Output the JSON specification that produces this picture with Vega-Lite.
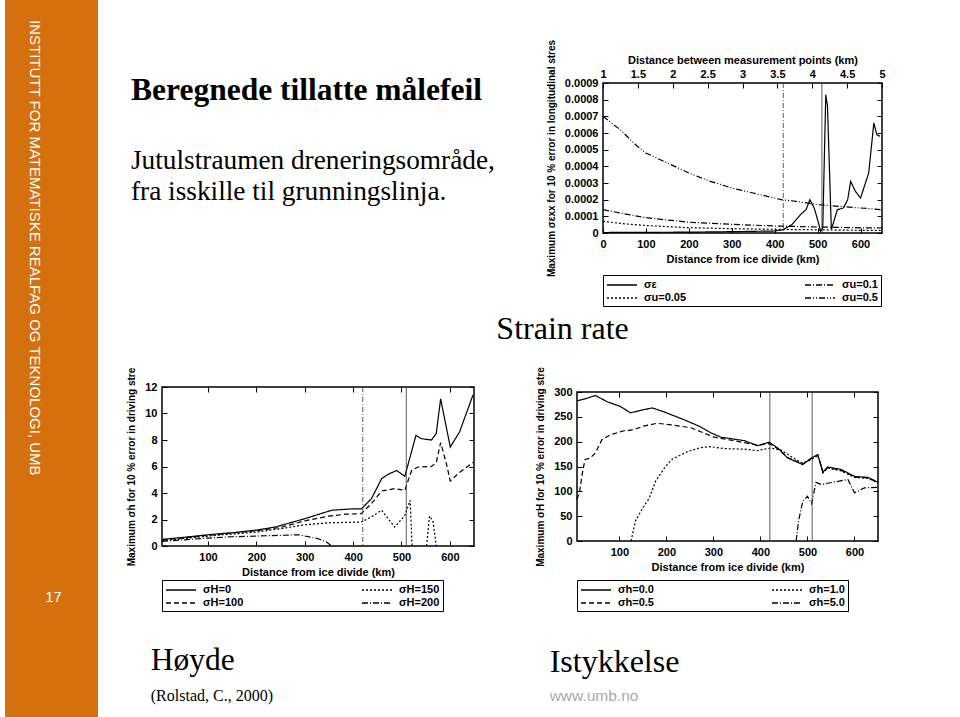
{
  "$schema": "https://vega.github.io/schema/vega-lite/v6.json",
  "background": "white",
  "padding": {"left": 5, "top": 0, "right": 0, "bottom": 0},
  "config": {
    "font": "Liberation Sans",
    "view": {"stroke": null},
    "axis": {
      "grid": false, "domain": false, "tickColor": "black", "tickSize": -5, "tickWidth": 1,
      "labelFont": "Liberation Sans", "labelFontWeight": "bold", "labelFontSize": 11, "labelColor": "black",
      "labelPadding": 10, "labelFlush": false, "labelOverlap": false,
      "titleFont": "Liberation Sans", "titleFontWeight": "bold", "titleFontSize": 11, "titleColor": "black"
    },
    "legend": {
      "orient": "bottom", "direction": "horizontal", "columns": 2, "strokeColor": "black", "padding": 3,
      "symbolType": "M-1,0H4", "symbolSize": 144, "symbolStrokeWidth": 1.3, "symbolStrokeColor": "black",
      "labelFont": "Liberation Sans", "labelFontWeight": "bold", "labelFontSize": 11, "labelColor": "black",
      "labelOffset": 24, "columnPadding": 115, "rowPadding": 1, "offset": 3
    }
  },
  "datasets": {
    "markers": [{"km": 420}, {"km": 510}],
    "strain": [
      {"km": 0, "v": 0.000003, "s": "σε"}, {"km": 100, "v": 0.000004, "s": "σε"}, {"km": 200, "v": 0.000005, "s": "σε"},
      {"km": 300, "v": 0.000008, "s": "σε"}, {"km": 400, "v": 0.000012, "s": "σε"}, {"km": 420, "v": 0.00002, "s": "σε"},
      {"km": 440, "v": 0.00005, "s": "σε"}, {"km": 460, "v": 0.00011, "s": "σε"}, {"km": 473, "v": 0.00014, "s": "σε"},
      {"km": 482, "v": 0.0002, "s": "σε"}, {"km": 492, "v": 0.00015, "s": "σε"}, {"km": 500, "v": 0.00008, "s": "σε"},
      {"km": 507, "v": 0.00001, "s": "σε"}, {"km": 512, "v": 0.00003, "s": "σε"}, {"km": 519, "v": 0.00083, "s": "σε"},
      {"km": 523, "v": 0.00076, "s": "σε"}, {"km": 532, "v": 0.00002, "s": "σε"}, {"km": 546, "v": 0.00014, "s": "σε"},
      {"km": 560, "v": 0.00015, "s": "σε"}, {"km": 570, "v": 0.0002, "s": "σε"}, {"km": 577, "v": 0.00031, "s": "σε"},
      {"km": 588, "v": 0.00025, "s": "σε"}, {"km": 600, "v": 0.00021, "s": "σε"}, {"km": 619, "v": 0.00036, "s": "σε"},
      {"km": 631, "v": 0.00066, "s": "σε"}, {"km": 638, "v": 0.00059, "s": "σε"}, {"km": 645, "v": 0.00058, "s": "σε"},
      {"km": 0, "v": 0.00007, "s": "σu=0.05"}, {"km": 50, "v": 0.000055, "s": "σu=0.05"}, {"km": 100, "v": 0.000045, "s": "σu=0.05"},
      {"km": 150, "v": 0.000038, "s": "σu=0.05"}, {"km": 200, "v": 0.000032, "s": "σu=0.05"}, {"km": 300, "v": 0.000026, "s": "σu=0.05"},
      {"km": 400, "v": 0.000022, "s": "σu=0.05"}, {"km": 500, "v": 0.000019, "s": "σu=0.05"}, {"km": 600, "v": 0.000016, "s": "σu=0.05"},
      {"km": 650, "v": 0.000015, "s": "σu=0.05"},
      {"km": 0, "v": 0.00014, "s": "σu=0.1"}, {"km": 50, "v": 0.000115, "s": "σu=0.1"}, {"km": 100, "v": 0.000092, "s": "σu=0.1"},
      {"km": 150, "v": 0.000078, "s": "σu=0.1"}, {"km": 200, "v": 0.000065, "s": "σu=0.1"}, {"km": 300, "v": 0.000052, "s": "σu=0.1"},
      {"km": 400, "v": 0.000042, "s": "σu=0.1"}, {"km": 500, "v": 0.000036, "s": "σu=0.1"}, {"km": 600, "v": 0.000031, "s": "σu=0.1"},
      {"km": 650, "v": 0.00003, "s": "σu=0.1"},
      {"km": 0, "v": 0.0007, "s": "σu=0.5"}, {"km": 40, "v": 0.00062, "s": "σu=0.5"}, {"km": 80, "v": 0.00052, "s": "σu=0.5"},
      {"km": 100, "v": 0.00048, "s": "σu=0.5"}, {"km": 150, "v": 0.00042, "s": "σu=0.5"}, {"km": 200, "v": 0.00036, "s": "σu=0.5"},
      {"km": 250, "v": 0.00031, "s": "σu=0.5"}, {"km": 300, "v": 0.00027, "s": "σu=0.5"}, {"km": 350, "v": 0.00024, "s": "σu=0.5"},
      {"km": 415, "v": 0.0002, "s": "σu=0.5"}, {"km": 450, "v": 0.00019, "s": "σu=0.5"}, {"km": 500, "v": 0.00017, "s": "σu=0.5"},
      {"km": 550, "v": 0.00016, "s": "σu=0.5"}, {"km": 600, "v": 0.00015, "s": "σu=0.5"}, {"km": 650, "v": 0.00014, "s": "σu=0.5"}
    ],
    "hoyde": [
      {"km": 5, "v": 0.5, "s": "σH=0"}, {"km": 50, "v": 0.65, "s": "σH=0"}, {"km": 100, "v": 0.85, "s": "σH=0"},
      {"km": 150, "v": 1.0, "s": "σH=0"}, {"km": 200, "v": 1.2, "s": "σH=0"}, {"km": 239, "v": 1.43, "s": "σH=0"},
      {"km": 300, "v": 2.06, "s": "σH=0"}, {"km": 356, "v": 2.7, "s": "σH=0"}, {"km": 397, "v": 2.8, "s": "σH=0"},
      {"km": 417, "v": 2.8, "s": "σH=0"}, {"km": 438, "v": 3.57, "s": "σH=0"}, {"km": 459, "v": 5.08, "s": "σH=0"},
      {"km": 472, "v": 5.4, "s": "σH=0"}, {"km": 490, "v": 5.7, "s": "σH=0"}, {"km": 507, "v": 5.26, "s": "σH=0"},
      {"km": 514, "v": 6.2, "s": "σH=0"}, {"km": 530, "v": 8.35, "s": "σH=0"}, {"km": 541, "v": 8.1, "s": "σH=0"},
      {"km": 562, "v": 8.0, "s": "σH=0"}, {"km": 572, "v": 8.5, "s": "σH=0"}, {"km": 581, "v": 11.1, "s": "σH=0"},
      {"km": 601, "v": 7.47, "s": "σH=0"}, {"km": 620, "v": 8.6, "s": "σH=0"}, {"km": 648, "v": 11.4, "s": "σH=0"},
      {"km": 5, "v": 0.45, "s": "σH=100"}, {"km": 100, "v": 0.8, "s": "σH=100"}, {"km": 200, "v": 1.15, "s": "σH=100"},
      {"km": 250, "v": 1.4, "s": "σH=100"}, {"km": 300, "v": 1.9, "s": "σH=100"}, {"km": 350, "v": 2.25, "s": "σH=100"},
      {"km": 385, "v": 2.4, "s": "σH=100"}, {"km": 417, "v": 2.44, "s": "σH=100"}, {"km": 438, "v": 3.2, "s": "σH=100"},
      {"km": 459, "v": 4.15, "s": "σH=100"}, {"km": 486, "v": 4.33, "s": "σH=100"}, {"km": 507, "v": 4.2, "s": "σH=100"},
      {"km": 521, "v": 5.7, "s": "σH=100"}, {"km": 534, "v": 5.96, "s": "σH=100"}, {"km": 562, "v": 6.0, "s": "σH=100"},
      {"km": 572, "v": 6.3, "s": "σH=100"}, {"km": 581, "v": 7.8, "s": "σH=100"}, {"km": 593, "v": 6.2, "s": "σH=100"},
      {"km": 601, "v": 4.9, "s": "σH=100"}, {"km": 617, "v": 5.46, "s": "σH=100"}, {"km": 648, "v": 6.3, "s": "σH=100"},
      {"km": 5, "v": 0.4, "s": "σH=150", "g": 1}, {"km": 100, "v": 0.75, "s": "σH=150", "g": 1}, {"km": 200, "v": 1.05, "s": "σH=150", "g": 1},
      {"km": 250, "v": 1.3, "s": "σH=150", "g": 1}, {"km": 300, "v": 1.6, "s": "σH=150", "g": 1}, {"km": 350, "v": 1.75, "s": "σH=150", "g": 1},
      {"km": 417, "v": 1.81, "s": "σH=150", "g": 1}, {"km": 438, "v": 2.2, "s": "σH=150", "g": 1}, {"km": 459, "v": 2.7, "s": "σH=150", "g": 1},
      {"km": 486, "v": 1.43, "s": "σH=150", "g": 1}, {"km": 507, "v": 2.3, "s": "σH=150", "g": 1}, {"km": 518, "v": 3.45, "s": "σH=150", "g": 1},
      {"km": 522, "v": 0, "s": "σH=150", "g": 1},
      {"km": 552, "v": 0, "s": "σH=150", "g": 2}, {"km": 558, "v": 2.26, "s": "σH=150", "g": 2}, {"km": 565, "v": 1.9, "s": "σH=150", "g": 2},
      {"km": 572, "v": 0, "s": "σH=150", "g": 2},
      {"km": 5, "v": 0.35, "s": "σH=200"}, {"km": 100, "v": 0.6, "s": "σH=200"}, {"km": 150, "v": 0.7, "s": "σH=200"},
      {"km": 200, "v": 0.75, "s": "σH=200"}, {"km": 245, "v": 0.8, "s": "σH=200"}, {"km": 287, "v": 0.85, "s": "σH=200"},
      {"km": 328, "v": 0.55, "s": "σH=200"}, {"km": 345, "v": 0.3, "s": "σH=200"}, {"km": 356, "v": 0, "s": "σH=200"}
    ],
    "istykkelse": [
      {"km": 10, "v": 282, "s": "σh=0.0"}, {"km": 30, "v": 287, "s": "σh=0.0"}, {"km": 49, "v": 293, "s": "σh=0.0"},
      {"km": 75, "v": 280, "s": "σh=0.0"}, {"km": 102, "v": 271, "s": "σh=0.0"}, {"km": 124, "v": 258, "s": "σh=0.0"},
      {"km": 145, "v": 263, "s": "σh=0.0"}, {"km": 170, "v": 268, "s": "σh=0.0"}, {"km": 195, "v": 260, "s": "σh=0.0"},
      {"km": 238, "v": 244, "s": "σh=0.0"}, {"km": 270, "v": 231, "s": "σh=0.0"}, {"km": 294, "v": 218, "s": "σh=0.0"},
      {"km": 316, "v": 209, "s": "σh=0.0"}, {"km": 366, "v": 202, "s": "σh=0.0"}, {"km": 394, "v": 192, "s": "σh=0.0"},
      {"km": 419, "v": 199, "s": "σh=0.0"}, {"km": 437, "v": 187, "s": "σh=0.0"}, {"km": 458, "v": 167, "s": "σh=0.0"},
      {"km": 490, "v": 154, "s": "σh=0.0"}, {"km": 508, "v": 167, "s": "σh=0.0"}, {"km": 522, "v": 174, "s": "σh=0.0"},
      {"km": 533, "v": 139, "s": "σh=0.0"}, {"km": 543, "v": 149, "s": "σh=0.0"}, {"km": 572, "v": 144, "s": "σh=0.0"},
      {"km": 600, "v": 130, "s": "σh=0.0"}, {"km": 629, "v": 128, "s": "σh=0.0"}, {"km": 650, "v": 118, "s": "σh=0.0"},
      {"km": 10, "v": 84, "s": "σh=0.5"}, {"km": 15, "v": 97, "s": "σh=0.5"}, {"km": 22, "v": 140, "s": "σh=0.5"},
      {"km": 27, "v": 164, "s": "σh=0.5"}, {"km": 38, "v": 167, "s": "σh=0.5"}, {"km": 49, "v": 177, "s": "σh=0.5"},
      {"km": 63, "v": 204, "s": "σh=0.5"}, {"km": 81, "v": 214, "s": "σh=0.5"}, {"km": 110, "v": 222, "s": "σh=0.5"},
      {"km": 131, "v": 224, "s": "σh=0.5"}, {"km": 150, "v": 231, "s": "σh=0.5"}, {"km": 180, "v": 237, "s": "σh=0.5"},
      {"km": 210, "v": 234, "s": "σh=0.5"}, {"km": 252, "v": 228, "s": "σh=0.5"}, {"km": 273, "v": 220, "s": "σh=0.5"},
      {"km": 302, "v": 209, "s": "σh=0.5"}, {"km": 337, "v": 203, "s": "σh=0.5"}, {"km": 366, "v": 198, "s": "σh=0.5"},
      {"km": 394, "v": 193, "s": "σh=0.5"}, {"km": 419, "v": 196, "s": "σh=0.5"}, {"km": 437, "v": 186, "s": "σh=0.5"},
      {"km": 458, "v": 168, "s": "σh=0.5"}, {"km": 490, "v": 155, "s": "σh=0.5"}, {"km": 508, "v": 166, "s": "σh=0.5"},
      {"km": 522, "v": 173, "s": "σh=0.5"}, {"km": 533, "v": 138, "s": "σh=0.5"}, {"km": 543, "v": 148, "s": "σh=0.5"},
      {"km": 572, "v": 142, "s": "σh=0.5"}, {"km": 600, "v": 129, "s": "σh=0.5"}, {"km": 629, "v": 127, "s": "σh=0.5"},
      {"km": 650, "v": 118, "s": "σh=0.5"},
      {"km": 125, "v": 0, "s": "σh=1.0"}, {"km": 134, "v": 40, "s": "σh=1.0"}, {"km": 152, "v": 70, "s": "σh=1.0"},
      {"km": 163, "v": 85, "s": "σh=1.0"}, {"km": 177, "v": 120, "s": "σh=1.0"}, {"km": 198, "v": 150, "s": "σh=1.0"},
      {"km": 213, "v": 165, "s": "σh=1.0"}, {"km": 245, "v": 180, "s": "σh=1.0"}, {"km": 273, "v": 188, "s": "σh=1.0"},
      {"km": 294, "v": 190, "s": "σh=1.0"}, {"km": 322, "v": 186, "s": "σh=1.0"}, {"km": 366, "v": 185, "s": "σh=1.0"},
      {"km": 394, "v": 182, "s": "σh=1.0"}, {"km": 408, "v": 185, "s": "σh=1.0"}, {"km": 422, "v": 187, "s": "σh=1.0"},
      {"km": 444, "v": 183, "s": "σh=1.0"}, {"km": 465, "v": 170, "s": "σh=1.0"}, {"km": 486, "v": 158, "s": "σh=1.0"},
      {"km": 500, "v": 160, "s": "σh=1.0"}, {"km": 510, "v": 165, "s": "σh=1.0"}, {"km": 522, "v": 172, "s": "σh=1.0"},
      {"km": 533, "v": 137, "s": "σh=1.0"}, {"km": 543, "v": 147, "s": "σh=1.0"}, {"km": 572, "v": 141, "s": "σh=1.0"},
      {"km": 600, "v": 128, "s": "σh=1.0"}, {"km": 629, "v": 126, "s": "σh=1.0"}, {"km": 650, "v": 117, "s": "σh=1.0"},
      {"km": 476, "v": 0, "s": "σh=5.0"}, {"km": 481, "v": 40, "s": "σh=5.0"}, {"km": 490, "v": 80, "s": "σh=5.0"},
      {"km": 500, "v": 90, "s": "σh=5.0"}, {"km": 509, "v": 75, "s": "σh=5.0"}, {"km": 518, "v": 118, "s": "σh=5.0"},
      {"km": 529, "v": 114, "s": "σh=5.0"}, {"km": 565, "v": 120, "s": "σh=5.0"}, {"km": 586, "v": 124, "s": "σh=5.0"},
      {"km": 600, "v": 97, "s": "σh=5.0"}, {"km": 621, "v": 107, "s": "σh=5.0"}, {"km": 650, "v": 108, "s": "σh=5.0"}
    ]
  },
  "resolve": {"scale": {"strokeDash": "independent"}, "legend": {"strokeDash": "independent"}},
  "hconcat": [
    {
      "spacing": 0,
      "vconcat": [
        {
          "width": 93, "height": 575,
          "view": {"fill": "#D5700F", "stroke": null},
          "data": {"values": []},
          "mark": "point",
          "title": {"text": "INSTITUTT FOR MATEMATISKE REALFAG OG TEKNOLOGI, UMB", "orient": "right", "anchor": "start", "offset": -71, "dx": 20, "color": "white", "font": "Liberation Sans", "fontSize": 15, "fontWeight": "normal"}
        },
        {
          "width": 93, "height": 142,
          "view": {"fill": "#D5700F", "stroke": null},
          "data": {"values": []},
          "mark": "point",
          "title": {"text": "17", "orient": "top", "anchor": "middle", "offset": -30, "dx": 2, "color": "white", "font": "Liberation Sans", "fontSize": 15, "fontWeight": "normal"}
        }
      ]
    },
    {
      "spacing": 19,
      "resolve": {"scale": {"strokeDash": "independent"}, "legend": {"strokeDash": "independent"}},
      "vconcat": [
        {
          "spacing": 0,
          "center": true,
          "bounds": "flush",
          "resolve": {"scale": {"strokeDash": "independent"}, "legend": {"strokeDash": "independent"}},
          "hconcat": [
            {
              "width": 441, "height": 316,
              "view": {"stroke": null},
              "data": {"values": []},
              "mark": "point",
              "title": {
                "text": "Beregnede tillatte målefeil",
                "subtitle": ["Jutulstraumen dreneringsområde,", "fra isskille til grunningslinja."],
                "orient": "top", "anchor": "start", "offset": -205, "dx": -31,
                "font": "Liberation Serif", "fontSize": 31.5, "fontWeight": "bold", "color": "black",
                "subtitleFont": "Liberation Serif", "subtitleFontSize": 27.3, "subtitleColor": "black",
                "subtitlePadding": 40, "subtitleLineHeight": 31
              }
            },
            {
              "width": 279, "height": 150,
              "view": {"stroke": "black", "strokeWidth": 1.5},
              "title": {"text": "Strain rate", "orient": "bottom", "anchor": "start", "dx": -50, "offset": 7, "font": "Liberation Serif", "fontSize": 32, "fontWeight": "normal", "color": "black"},
              "resolve": {"scale": {"x": "independent"}, "axis": {"y": "independent"}},
              "layer": [
                {
                  "data": {"name": "strain"},
                  "mark": {"type": "line", "color": "black", "strokeWidth": 1.2},
                  "encoding": {
                    "x": {"field": "km", "type": "quantitative", "scale": {"domain": [0, 650], "nice": false},
                          "axis": {"values": [0, 100, 200, 300, 400, 500, 600], "title": "Distance from ice divide (km)", "titlePadding": 4}},
                    "y": {"field": "v", "type": "quantitative", "scale": {"domain": [0, 0.0009], "nice": false},
                          "axis": {"values": [0, 0.0001, 0.0002, 0.0003, 0.0004, 0.0005, 0.0006, 0.0007, 0.0008, 0.0009], "format": ".4~f",
                                   "title": "Maximum σεxx for 10 % error in longitudinal stres", "titleFontSize": 10, "titlePadding": 8}},
                    "strokeDash": {"field": "s", "type": "nominal",
                                   "scale": {"domain": ["σε", "σu=0.1", "σu=0.05", "σu=0.5"], "range": [[1, 0], [6, 2, 1, 2], [2, 2], [6, 2, 1, 2, 1, 2]]},
                                   "legend": {"title": null, "offset": 11}}
                  }
                },
                {
                  "data": {"name": "markers"},
                  "mark": {"type": "rule", "color": "#333", "strokeWidth": 0.8},
                  "encoding": {
                    "x": {"field": "km", "type": "quantitative", "scale": {"domain": [0, 650], "nice": false}, "axis": null},
                    "strokeDash": {"condition": {"test": "datum.km < 450", "value": [5, 2, 1, 2]}, "value": [1, 0]}
                  }
                },
                {
                  "data": {"values": [{"d": 1}, {"d": 5}]},
                  "mark": {"type": "point", "opacity": 0},
                  "encoding": {
                    "x": {"field": "d", "type": "quantitative", "scale": {"domain": [1, 5], "nice": false},
                          "axis": {"orient": "top", "values": [1, 1.5, 2, 2.5, 3, 3.5, 4, 4.5, 5], "format": "~g",
                                   "title": "Distance between measurement points (km)", "titlePadding": 3, "labelPadding": 9}}
                  }
                },
                {
                  "data": {"name": "strain"},
                  "mark": {"type": "point", "opacity": 0},
                  "encoding": {
                    "x": {"field": "km", "type": "quantitative", "scale": {"domain": [0, 650], "nice": false}, "axis": null},
                    "y": {"field": "v", "type": "quantitative",
                          "axis": {"orient": "right", "values": [0, 0.0001, 0.0002, 0.0003, 0.0004, 0.0005, 0.0006, 0.0007, 0.0008, 0.0009], "labels": false, "title": null}}
                  }
                }
              ]
            }
          ]
        },
        {
          "spacing": 103,
          "center": true,
          "bounds": "flush",
          "resolve": {"scale": {"strokeDash": "independent"}, "legend": {"strokeDash": "independent"}},
          "hconcat": [
            {
              "width": 312, "height": 159,
              "view": {"stroke": "black", "strokeWidth": 1.5},
              "title": {"text": "Høyde", "subtitle": "(Rolstad, C., 2000)", "orient": "bottom", "anchor": "start", "dx": 24, "offset": 33,
                        "font": "Liberation Serif", "fontSize": 31.5, "fontWeight": "normal", "color": "black",
                        "subtitleFont": "Liberation Serif", "subtitleFontSize": 16, "subtitleColor": "black", "subtitlePadding": 12},
              "resolve": {"axis": {"x": "independent", "y": "independent"}},
              "layer": [
                {
                  "data": {"name": "hoyde"},
                  "mark": {"type": "line", "color": "black", "strokeWidth": 1.2},
                  "encoding": {
                    "x": {"field": "km", "type": "quantitative", "scale": {"domain": [5, 650], "nice": false},
                          "axis": {"values": [100, 200, 300, 400, 500, 600], "title": "Distance from ice divide (km)", "titlePadding": 4}},
                    "y": {"field": "v", "type": "quantitative", "scale": {"domain": [0, 12], "nice": false},
                          "axis": {"values": [0, 2, 4, 6, 8, 10, 12], "title": "Maximum σh for 10 % error in driving stre", "titleFontSize": 10, "titlePadding": 8}},
                    "strokeDash": {"field": "s", "type": "nominal",
                                   "scale": {"domain": ["σH=0", "σH=150", "σH=100", "σH=200"], "range": [[1, 0], [2, 2], [5, 3], [6, 2, 1, 2]]},
                                   "legend": {"title": null}},
                    "detail": {"field": "g", "type": "nominal"}
                  }
                },
                {
                  "data": {"name": "markers"},
                  "mark": {"type": "rule", "color": "#333", "strokeWidth": 0.8},
                  "encoding": {
                    "x": {"field": "km", "type": "quantitative", "axis": null},
                    "strokeDash": {"condition": {"test": "datum.km < 450", "value": [5, 2, 1, 2]}, "value": [1, 0]}
                  }
                },
                {
                  "data": {"name": "hoyde"},
                  "mark": {"type": "point", "opacity": 0},
                  "encoding": {
                    "x": {"field": "km", "type": "quantitative", "axis": {"orient": "top", "values": [100, 200, 300, 400, 500, 600], "labels": false, "title": null}},
                    "y": {"field": "v", "type": "quantitative", "axis": {"orient": "right", "values": [0, 2, 4, 6, 8, 10, 12], "labels": false, "title": null}}
                  }
                }
              ]
            },
            {
              "width": 301, "height": 149,
              "view": {"stroke": "black", "strokeWidth": 1.5},
              "title": {"text": "Istykkelse", "subtitle": "www.umb.no", "orient": "bottom", "anchor": "start", "dx": 14, "offset": 35,
                        "font": "Liberation Serif", "fontSize": 32, "fontWeight": "normal", "color": "black",
                        "subtitleFont": "Liberation Sans", "subtitleFontSize": 15.5, "subtitleColor": "#aaaaaa", "subtitlePadding": 10},
              "resolve": {"axis": {"x": "independent", "y": "independent"}},
              "layer": [
                {
                  "data": {"name": "istykkelse"},
                  "mark": {"type": "line", "color": "black", "strokeWidth": 1.2},
                  "encoding": {
                    "x": {"field": "km", "type": "quantitative", "scale": {"domain": [10, 650], "nice": false},
                          "axis": {"values": [100, 200, 300, 400, 500, 600], "title": "Distance from ice divide (km)", "titlePadding": 4}},
                    "y": {"field": "v", "type": "quantitative", "scale": {"domain": [0, 300], "nice": false},
                          "axis": {"values": [0, 50, 100, 150, 200, 250, 300], "title": "Maximum σH for 10 % error in driving stre", "titleFontSize": 10, "titlePadding": 8}},
                    "strokeDash": {"field": "s", "type": "nominal",
                                   "scale": {"domain": ["σh=0.0", "σh=1.0", "σh=0.5", "σh=5.0"], "range": [[1, 0], [2, 2], [5, 3], [6, 2, 1, 2]]},
                                   "legend": {"title": null, "offset": 8}}
                  }
                },
                {
                  "data": {"name": "markers"},
                  "mark": {"type": "rule", "color": "#333", "strokeWidth": 0.8},
                  "encoding": {"x": {"field": "km", "type": "quantitative", "axis": null}}
                },
                {
                  "data": {"name": "istykkelse"},
                  "mark": {"type": "point", "opacity": 0},
                  "encoding": {
                    "x": {"field": "km", "type": "quantitative", "axis": {"orient": "top", "values": [100, 200, 300, 400, 500, 600], "labels": false, "title": null}},
                    "y": {"field": "v", "type": "quantitative", "axis": {"orient": "right", "values": [0, 50, 100, 150, 200, 250, 300], "labels": false, "title": null}}
                  }
                }
              ]
            }
          ]
        }
      ]
    }
  ],
  "spacing": 28
}
